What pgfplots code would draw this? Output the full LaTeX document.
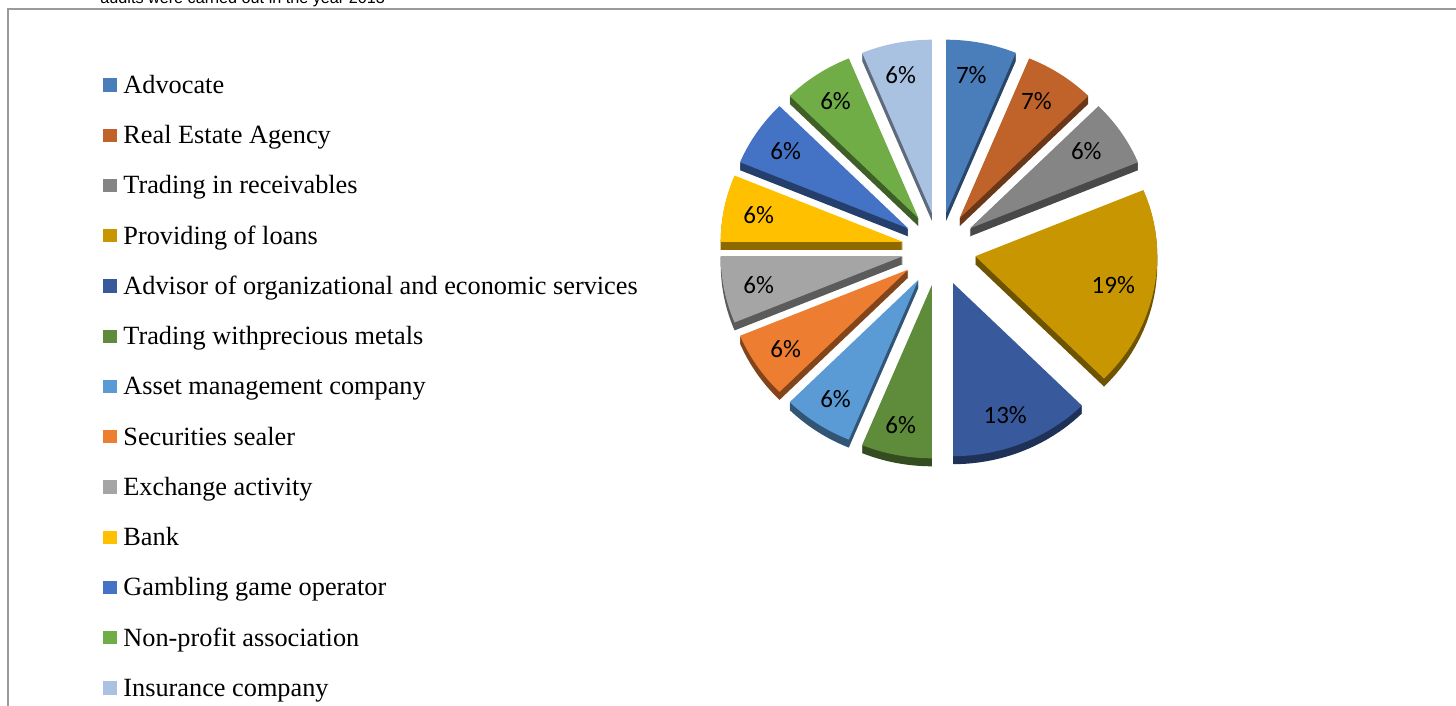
\documentclass[border=0pt]{standalone}
\usepackage{pgfplots}
\pgfplotsset{compat=1.18}
\usepackage{pgfplotstable}
\usepackage{fontspec}
\setmainfont{Liberation Serif}
\newfontfamily\labelfont{Carlito}
\newfontfamily\notefont{Liberation Sans}

\definecolor{col0}{HTML}{4A7EBB}
\definecolor{col1}{HTML}{C0632B}
\definecolor{col2}{HTML}{858585}
\definecolor{col3}{HTML}{C89600}
\definecolor{col4}{HTML}{385A9C}
\definecolor{col5}{HTML}{5E8C3A}
\definecolor{col6}{HTML}{5B9BD5}
\definecolor{col7}{HTML}{ED7D31}
\definecolor{col8}{HTML}{A5A5A5}
\definecolor{col9}{HTML}{FFC000}
\definecolor{col10}{HTML}{4472C4}
\definecolor{col11}{HTML}{70AD47}
\definecolor{col12}{HTML}{A9C2E2}
\definecolor{frame}{HTML}{9A9A9A}

% share = audits of 16 (slice size), pct = label shown on the slice
\pgfplotstableread[col sep=comma]{
share,pct,name
1,7,Advocate
1,7,Real Estate Agency
1,6,Trading in receivables
3,19,Providing of loans
2,13,Advisor of organizational and economic services
1,6,Trading withprecious metals
1,6,Asset management company
1,6,Securities sealer
1,6,Exchange activity
1,6,Bank
1,6,Gambling game operator
1,6,Non-profit association
1,6,Insurance company
}\piedata

% pie geometry, in pixels of the picture (y downwards)
\def\cx{939}\def\cy{249}\def\expl{37}\def\Rx{182}\def\Ry{173}\def\dep{8}
\def\ntot{16}

\tikzset{
  lab/.style={font=\labelfont\fontsize{12.5bp}{15bp}\selectfont, inner sep=0pt},
  leg/.style={font=\fontsize{13.15bp}{15bp}\selectfont, inner sep=0pt, anchor=base west},
}

\begin{document}
\begin{tikzpicture}
\def\cum{0}
\pgfplotsforeachungrouped \ii in {0,...,12}{%
  \pgfplotstablegetelem{\ii}{share}\of\piedata \let\val\pgfplotsretval
  \pgfmathsetmacro\sA{360*\cum/\ntot}%
  \pgfmathsetmacro\wA{360*\val/\ntot}%
  \pgfmathsetmacro\mA{\sA+\wA/2}%
  \pgfmathsetmacro\tx{\cx+\expl*sin(\mA)}%
  \pgfmathsetmacro\ty{\cy-\expl*cos(\mA)}%
  % top face
  \xdef\curpath{(axis cs:\tx,\ty)}%
  \foreach \kk in {0,...,24}{%
    \pgfmathsetmacro\ang{\sA+\kk*\wA/24}%
    \pgfmathsetmacro\xx{\tx+\Rx*sin(\ang)}%
    \pgfmathsetmacro\yy{\ty-\Ry*cos(\ang)}%
    \xdef\curpath{\curpath -- (axis cs:\xx,\yy)}}%
  \expandafter\xdef\csname top\ii\endcsname{\curpath -- cycle}%
  % side face: copies moved down
  \xdef\curpath{}%
  \foreach \dd in {1,...,\dep}{%
    \pgfmathsetmacro\yt{\ty+\dd}%
    \xdef\curpath{\curpath (axis cs:\tx,\yt)}%
    \foreach \kk in {0,...,24}{%
      \pgfmathsetmacro\ang{\sA+\kk*\wA/24}%
      \pgfmathsetmacro\xx{\tx+\Rx*sin(\ang)}%
      \pgfmathsetmacro\yy{\ty+\dd-\Ry*cos(\ang)}%
      \xdef\curpath{\curpath -- (axis cs:\xx,\yy)}}%
    \xdef\curpath{\curpath -- cycle}}%
  \expandafter\xdef\csname side\ii\endcsname{\curpath}%
  % label
  \pgfmathsetmacro\lx{\tx+0.79*\Rx*sin(\mA)-3}%
  \pgfmathsetmacro\ly{\ty-0.82*\Ry*cos(\mA)+1}%
  \expandafter\xdef\csname lx\ii\endcsname{\lx}%
  \expandafter\xdef\csname ly\ii\endcsname{\ly}%
  \pgfplotstablegetelem{\ii}{pct}\of\piedata
  \expandafter\xdef\csname pc\ii\endcsname{\pgfplotsretval}%
  \pgfplotstablegetelem{\ii}{name}\of\piedata
  \expandafter\xdef\csname nm\ii\endcsname{\pgfplotsretval}%
  % legend rows
  \pgfmathsetmacro\lya{85+50.25*\ii-6.7}%
  \pgfmathsetmacro\lyb{85+50.25*\ii+6.7}%
  \pgfmathsetmacro\lyc{85+50.25*\ii+8.3}%
  \expandafter\xdef\csname lya\ii\endcsname{\lya}%
  \expandafter\xdef\csname lyb\ii\endcsname{\lyb}%
  \expandafter\xdef\csname lyc\ii\endcsname{\lyc}%
  \pgfmathsetmacro\cum{\cum+\val}%
}%
\begin{axis}[
    width=728bp, height=353bp, scale only axis,
    xmin=0, xmax=1456, ymin=0, ymax=706, y dir=reverse,
    enlargelimits=false, hide axis, clip=false]
  % frame and cut caption
  \draw[frame, line width=1bp] (axis cs:1470,9.5) -- (axis cs:8,9.5) -- (axis cs:8,720);
  \node[font=\notefont\fontsize{8.1bp}{10bp}\selectfont, inner sep=0pt, anchor=base west]
    at (axis cs:100,4) {audits were carried out in the year 2013};
  \pgfplotsinvokeforeach{0,...,12}{%
    \edef\temp{\noexpand\fill[col#1!55!black] \csname side#1\endcsname;}\temp
  }
  \pgfplotsinvokeforeach{0,...,12}{%
    \edef\temp{\noexpand\fill[col#1] \csname top#1\endcsname;
      \noexpand\node[lab] at (axis cs:\csname lx#1\endcsname,\csname ly#1\endcsname)
        {\csname pc#1\endcsname\noexpand\%};
      \noexpand\fill[col#1] (axis cs:103.3,\csname lya#1\endcsname)
        rectangle (axis cs:116.7,\csname lyb#1\endcsname);
      \noexpand\node[leg] at (axis cs:123,\csname lyc#1\endcsname) {\csname nm#1\endcsname};}\temp
  }
\end{axis}
\pgfresetboundingbox
\useasboundingbox (current axis.south west) rectangle (current axis.north east);
\end{tikzpicture}
\end{document}
